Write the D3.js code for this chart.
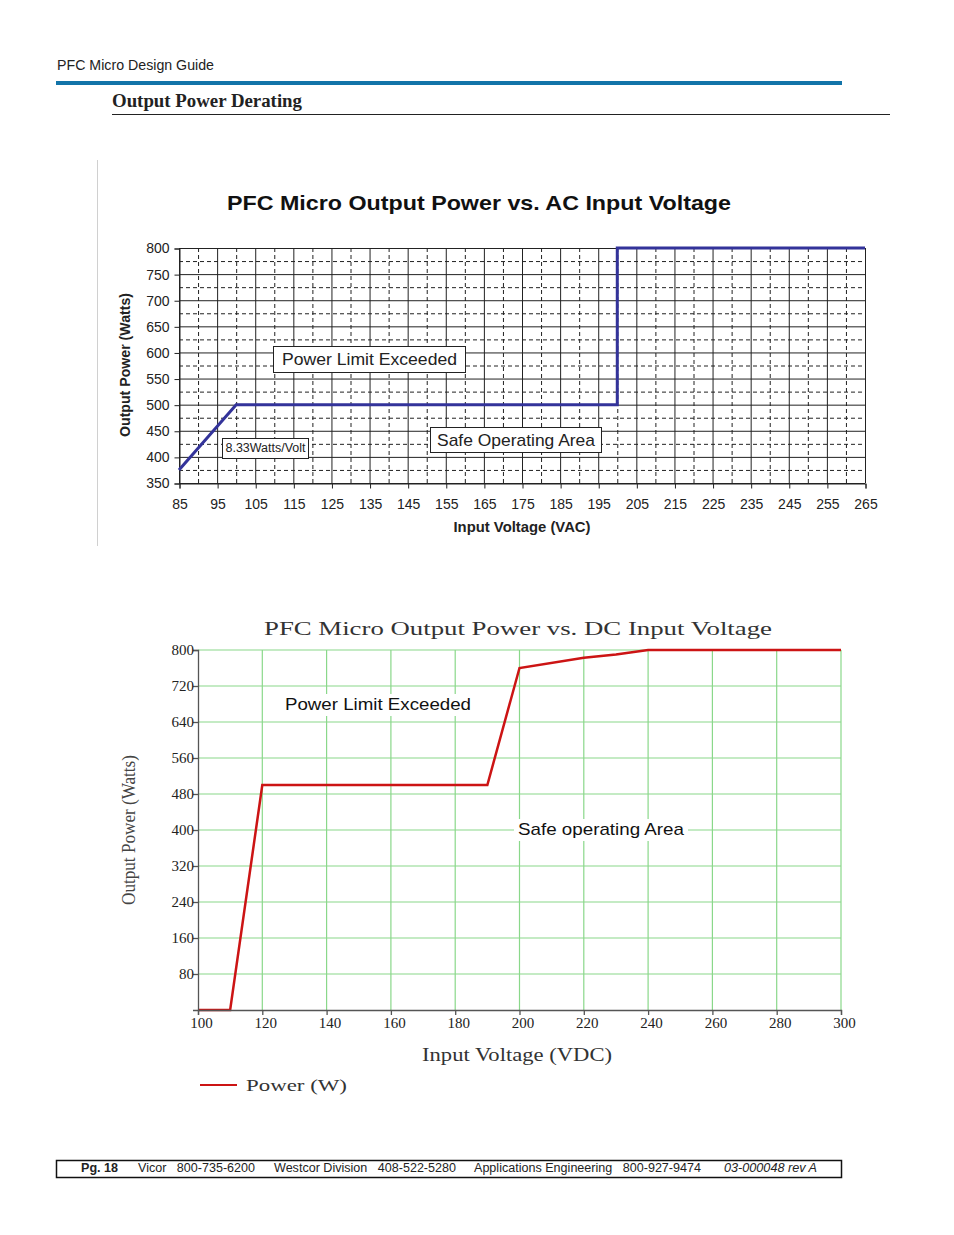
<!DOCTYPE html>
<html>
<head>
<meta charset="utf-8">
<script src="https://cdn.jsdelivr.net/npm/d3@7"></script>
<style>
  body { margin: 0; background: #fff; }
  svg text { fill: #222; }
</style>
</head>
<body>
<div class="page"></div>
<script>
// DATA ------------------------------------

// AC chart (blue line)
const acVolts = [85, 100, 200, 200, 265];
const acPower = [375, 500, 500, 800, 800];
const acMajorX = [85, 95, 105, 115, 125, 135, 145, 155, 165, 175, 185, 195, 205, 215, 225, 235, 245, 255, 265];
const acMinorX = [90, 100, 110, 120, 130, 140, 150, 160, 170, 180, 190, 200, 210, 220, 230, 240, 250, 260];
const acMajorY = [350, 400, 450, 500, 550, 600, 650, 700, 750, 800];
const acMinorY = [375, 425, 475, 525, 575, 625, 675, 725, 775];

// DC chart (red line)
const dcVolts = [100, 110, 120, 190, 200, 220, 230, 240, 300];
const dcPower = [0, 0, 500, 500, 760, 783, 790, 800, 800];
const dcXTicks = [100, 120, 140, 160, 180, 200, 220, 240, 260, 280, 300];
const dcYTicks = [80, 160, 240, 320, 400, 480, 560, 640, 720, 800];

// footer pieces
const footerItems = ["Pg. 18", "Vicor   800-735-6200", "Westcor Division   408-522-5280",
  "Applications Engineering   800-927-9474", "03-000048 rev A"];

// PAGE ------------------------------------

const W = 954, H = 1235;
const svg = d3.select(".page").append("svg").attr("width", W).attr("height", H);

svg.append("text").attr("x", 57).attr("y", 70)
  .attr("textLength", 157).attr("lengthAdjust", "spacingAndGlyphs")
  .style("font", "14px 'Liberation Sans', Arial, sans-serif").text("PFC Micro Design Guide");
svg.append("rect").attr("x", 56).attr("y", 81).attr("width", 786).attr("height", 4).attr("fill", "#1274a9");
svg.append("text").attr("x", 112).attr("y", 107)
  .attr("textLength", 190).attr("lengthAdjust", "spacingAndGlyphs")
  .style("font", "bold 18px 'Liberation Serif', 'Times New Roman', serif").text("Output Power Derating");
svg.append("line").attr("x1", 112).attr("x2", 890).attr("y1", 114.5).attr("y2", 114.5)
  .attr("stroke", "#222").attr("stroke-width", 1);
svg.append("line").attr("x1", 97.5).attr("x2", 97.5).attr("y1", 160).attr("y2", 546)
  .attr("stroke", "#d0d0d0");

// AC CHART --------------------------------

const ac = { left: 179, right: 865, top: 248, bottom: 483 };
const xAC = d3.scaleLinear().domain([85, 265]).range([ac.left, ac.right]);
const yAC = d3.scaleLinear().domain([350, 800]).range([ac.bottom, ac.top]);
const gA = svg.append("g");
const sans = "'Liberation Sans', Arial, sans-serif";

gA.append("text").attr("x", 479).attr("y", 210).attr("text-anchor", "middle")
  .attr("textLength", 504).attr("lengthAdjust", "spacingAndGlyphs")
  .style("font", `bold 21px ${sans}`).style("fill", "#111")
  .text("PFC Micro Output Power vs. AC Input Voltage");

// minor dashed grid
gA.selectAll(".minx").data(acMinorX).enter().append("line")
  .attr("x1", (d) => xAC(d) + 0.5).attr("x2", (d) => xAC(d) + 0.5)
  .attr("y1", ac.top).attr("y2", ac.bottom)
  .attr("stroke", "#222").attr("stroke-dasharray", "4,3");
gA.selectAll(".miny").data(acMinorY).enter().append("line")
  .attr("y1", (d) => yAC(d) + 0.5).attr("y2", (d) => yAC(d) + 0.5)
  .attr("x1", ac.left).attr("x2", ac.right)
  .attr("stroke", "#222").attr("stroke-dasharray", "4,3");
// major solid grid
gA.selectAll(".majx").data(acMajorX).enter().append("line")
  .attr("x1", (d) => xAC(d) + 0.5).attr("x2", (d) => xAC(d) + 0.5)
  .attr("y1", ac.top).attr("y2", ac.bottom).attr("stroke", "#222");
gA.selectAll(".majy").data(acMajorY).enter().append("line")
  .attr("y1", (d) => yAC(d) + 0.5).attr("y2", (d) => yAC(d) + 0.5)
  .attr("x1", ac.left).attr("x2", ac.right).attr("stroke", "#222");

// axes
const acXAxis = gA.append("g").attr("transform", `translate(0.5,${ac.bottom + 0.5})`)
  .call(d3.axisBottom(xAC).tickValues(acMajorX).tickSize(5).tickPadding(11));
const acYAxis = gA.append("g").attr("transform", `translate(${ac.left + 0.5},0.5)`)
  .call(d3.axisLeft(yAC).tickValues(acMajorY).tickSize(5).tickPadding(5));
[acXAxis, acYAxis].forEach((a) => {
  a.selectAll("path,line").attr("stroke", "#222");
  a.selectAll("text").style("font", `14px ${sans}`).attr("fill", "#222");
});

gA.append("text").attr("transform", "translate(130,365) rotate(-90)").attr("text-anchor", "middle")
  .attr("textLength", 144).attr("lengthAdjust", "spacingAndGlyphs")
  .style("font", `bold 14px ${sans}`).text("Output Power (Watts)");
gA.append("text").attr("x", 522).attr("y", 532).attr("text-anchor", "middle")
  .attr("textLength", 137).attr("lengthAdjust", "spacingAndGlyphs")
  .style("font", `bold 14px ${sans}`).text("Input Voltage (VAC)");

// the derating curve
const acLine = d3.line().x((d, i) => xAC(acVolts[i])).y((d) => yAC(d));
gA.append("path").datum(acPower).attr("d", acLine)
  .attr("fill", "none").attr("stroke", "#33339a").attr("stroke-width", 3);

// boxed notes
function note(g, x, y, w, h, size, label, tl) {
  g.append("rect").attr("x", x + 0.5).attr("y", y + 0.5).attr("width", w).attr("height", h)
    .attr("fill", "#fff").attr("stroke", "#222");
  g.append("text").attr("x", x + w / 2 + 0.5).attr("y", y + h / 2 + size * 0.36)
    .attr("text-anchor", "middle").attr("textLength", tl).attr("lengthAdjust", "spacingAndGlyphs")
    .style("font", `${size}px ${sans}`).text(label);
}
note(gA, 273, 346, 192, 26, 17, "Power Limit Exceeded", 175);
note(gA, 430, 427, 171, 25, 17, "Safe Operating Area", 158);
note(gA, 222, 438, 86, 20, 12, "8.33Watts/Volt", 80);

// DC CHART --------------------------------

const dc = { left: 198, right: 841, top: 650, bottom: 1010 };
const xDC = d3.scaleLinear().domain([100, 300]).range([dc.left, dc.right]);
const yDC = d3.scaleLinear().domain([0, 800]).range([dc.bottom, dc.top]);
const gB = svg.append("g");
const serif = "'Liberation Serif', 'Times New Roman', serif";

gB.append("text").attr("x", 518).attr("y", 635).attr("text-anchor", "middle")
  .attr("textLength", 508).attr("lengthAdjust", "spacingAndGlyphs")
  .style("font", `19px ${serif}`).style("fill", "#333")
  .text("PFC Micro Output Power vs. DC Input Voltage");

gB.selectAll(".gx").data(dcXTicks.slice(1)).enter().append("line")
  .attr("x1", (d) => xDC(d)).attr("x2", (d) => xDC(d))
  .attr("y1", dc.top).attr("y2", dc.bottom).attr("stroke", "#8ad88a").attr("stroke-width", 1.2);
gB.selectAll(".gy").data(dcYTicks).enter().append("line")
  .attr("y1", (d) => yDC(d)).attr("y2", (d) => yDC(d))
  .attr("x1", dc.left).attr("x2", dc.right).attr("stroke", "#8ad88a").attr("stroke-width", 1.2);

// text labels sit on white patches
function plain(g, x, y, label, tl) {
  g.append("rect").attr("x", x - 4).attr("y", y - 16).attr("width", tl + 8).attr("height", 22).attr("fill", "#fff");
  g.append("text").attr("x", x).attr("y", y).attr("textLength", tl).attr("lengthAdjust", "spacingAndGlyphs")
    .style("font", `17px ${sans}`).style("fill", "#111").text(label);
}
plain(gB, 285, 710, "Power Limit Exceeded", 186);
plain(gB, 518, 835, "Safe operating Area", 166);

const dcLine = d3.line().x((d, i) => xDC(dcVolts[i])).y((d) => yDC(d));
gB.append("path").datum(dcPower).attr("d", dcLine)
  .attr("fill", "none").attr("stroke", "#cc1414").attr("stroke-width", 2.5);

const dcXAxis = gB.append("g").attr("transform", `translate(0,${dc.bottom})`)
  .call(d3.axisBottom(xDC).tickValues(dcXTicks).tickSize(5).tickPadding(2));
const dcYAxis = gB.append("g").attr("transform", `translate(${dc.left},0)`)
  .call(d3.axisLeft(yDC).tickValues(dcYTicks).tickSize(5).tickPadding(-1));
[dcXAxis, dcYAxis].forEach((a) => {
  a.selectAll("path,line").attr("stroke", "#555").attr("stroke-width", 1.3);
  a.selectAll("text").style("font", `15px ${serif}`).attr("fill", "#444");
});
dcXAxis.selectAll("text").attr("dx", 3);

gB.append("text").attr("transform", "translate(135,830) rotate(-90)").attr("text-anchor", "middle")
  .attr("textLength", 150).attr("lengthAdjust", "spacingAndGlyphs")
  .style("font", `19px ${serif}`).style("fill", "#444").text("Output Power (Watts)");
gB.append("text").attr("x", 517).attr("y", 1061).attr("text-anchor", "middle")
  .attr("textLength", 190).attr("lengthAdjust", "spacingAndGlyphs")
  .style("font", `18px ${serif}`).style("fill", "#333").text("Input Voltage (VDC)");

// legend
gB.append("line").attr("x1", 200).attr("x2", 237).attr("y1", 1085).attr("y2", 1085)
  .attr("stroke", "#cc1414").attr("stroke-width", 2);
gB.append("text").attr("x", 246).attr("y", 1091).attr("textLength", 101).attr("lengthAdjust", "spacingAndGlyphs")
  .style("font", `17px ${serif}`).style("fill", "#333").text("Power (W)");

// FOOTER ----------------------------------

svg.append("rect").attr("x", 56.5).attr("y", 1160.5).attr("width", 785).attr("height", 17)
  .attr("fill", "none").attr("stroke", "#111").attr("stroke-width", 1.5);
const fx = [81, 138, 274, 474, 724];
const fw = [37, 117, 182, 227, 93];
footerItems.forEach((t, i) => {
  svg.append("text").attr("x", fx[i]).attr("y", 1172).attr("textLength", fw[i]).attr("lengthAdjust", "spacingAndGlyphs")
    .style("font", `${i === 0 ? "bold " : ""}${i === 4 ? "italic " : ""}12px ${sans}`)
    .style("white-space", "pre").attr("xml:space", "preserve").text(t);
});
</script>
</body>
</html>
